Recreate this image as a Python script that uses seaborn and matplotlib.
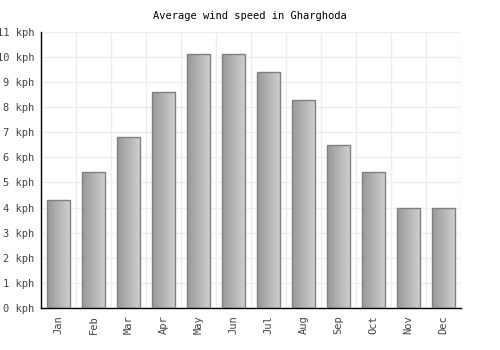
import numpy as np
import pandas as pd
import seaborn as sns
import matplotlib.pyplot as plt

months = ['Jan', 'Feb', 'Mar', 'Apr', 'May', 'Jun', 'Jul', 'Aug', 'Sep', 'Oct', 'Nov', 'Dec']
wind_kph = [4.3, 5.4, 6.8, 8.6, 10.1, 10.1, 9.4, 8.3, 6.5, 5.4, 4.0, 4.0]
y_ticks = list(range(0, 12))
y_labels = [f'{v} kph' for v in y_ticks]

df = pd.DataFrame({'month': months, 'wind': wind_kph})

sns.set_style('white')
plt.rcParams['font.family'] = ['DejaVu Sans Mono']

fig = plt.figure(figsize=(5, 3.5), dpi=100)
ax = fig.add_axes([0.082, 0.12, 0.84, 0.789])

sns.barplot(data=df, x='month', y='wind', color='#aaaaaa', width=0.66,
            edgecolor='#808080', linewidth=1, ax=ax, zorder=2)

# gradient fill, dark on the left to light on the right
grad = np.linspace(0, 1, 64).reshape(1, -1)
cmap = plt.matplotlib.colors.LinearSegmentedColormap.from_list('g', ['#999999', '#d0d0d0'])
for p in ax.patches:
    x0, y0 = p.get_x(), p.get_y()
    w, h = p.get_width(), p.get_height()
    im = ax.imshow(grad, cmap=cmap, aspect='auto', extent=[x0, x0 + w, y0, y0 + h],
                   zorder=2.5, interpolation='bilinear')
    im.set_clip_path(p)
    p.set_facecolor('none')
    p.set_zorder(3)

ax.set_xlim(-0.5, 11.5)
ax.set_ylim(0, 11)
ax.set_yticks(y_ticks)
ax.set_yticklabels(y_labels)
ax.set_xticks(np.arange(-0.5, 12, 1), minor=True)
ax.grid(False)
ax.grid(True, which='minor', axis='x', color='#eeeeee', linewidth=1, zorder=0)
ax.grid(True, which='major', axis='y', color='#eeeeee', linewidth=1, zorder=0)
ax.set_axisbelow(True)

ax.tick_params(axis='both', which='both', length=0, labelsize=7.5, labelcolor='#444444', pad=5)
ax.tick_params(axis='x', labelrotation=90)
ax.set_xlabel('')
ax.set_ylabel('')

for s in ['top', 'right']:
    ax.spines[s].set_visible(False)
for s in ['left', 'bottom']:
    ax.spines[s].set_color('black')
    ax.spines[s].set_linewidth(1)

fig.text(0.5, 0.955, 'Average wind speed in Gharghoda', ha='center', va='center',
         fontsize=7.5, color='black')

fig.savefig('out.png', dpi=100, facecolor='white')
